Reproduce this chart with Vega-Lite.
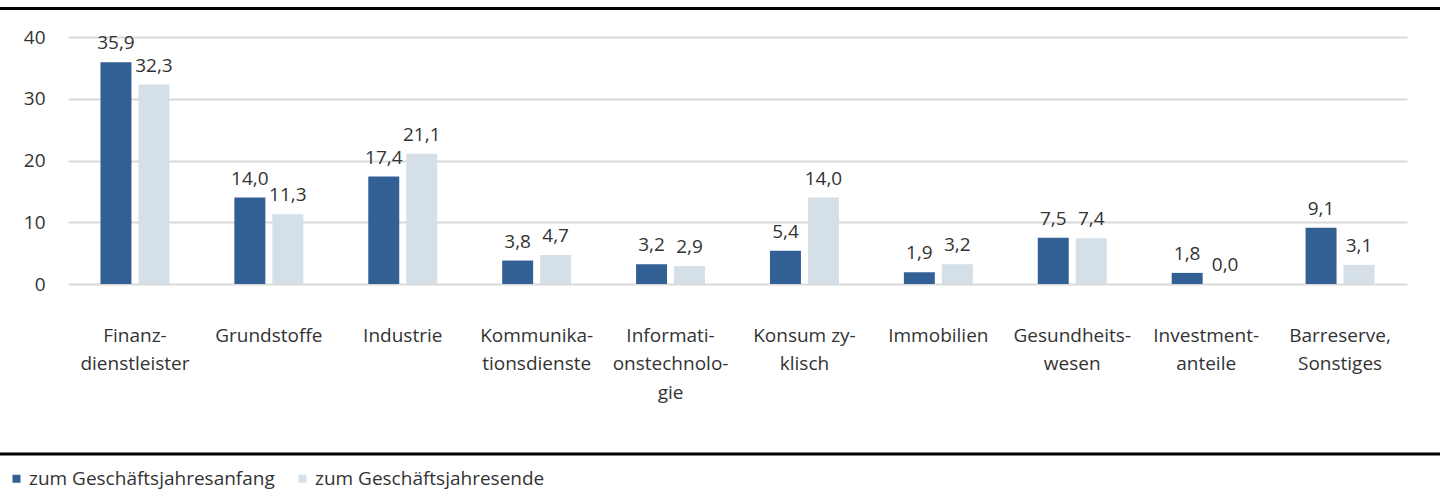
{
  "$schema": "https://vega.github.io/schema/vega-lite/v6.json",
  "width": 1339,
  "height": 247,
  "autosize": {"type": "none"},
  "padding": {"left": 68, "top": 37, "right": 33, "bottom": 207},
  "config": {
    "locale": {"number": {"decimal": ",", "thousands": ".", "grouping": [3], "currency": ["", " €"]}},
    "view": {"stroke": null},
    "font": "Open Sans"
  },
  "data": {
    "values": [
      {"cat": "Finanz-|dienstleister", "series": "zum Geschäftsjahresanfang", "value": 35.9},
      {"cat": "Finanz-|dienstleister", "series": "zum Geschäftsjahresende", "value": 32.3},
      {"cat": "Grundstoffe", "series": "zum Geschäftsjahresanfang", "value": 14.0},
      {"cat": "Grundstoffe", "series": "zum Geschäftsjahresende", "value": 11.3},
      {"cat": "Industrie", "series": "zum Geschäftsjahresanfang", "value": 17.4},
      {"cat": "Industrie", "series": "zum Geschäftsjahresende", "value": 21.1},
      {"cat": "Kommunika-|tionsdienste", "series": "zum Geschäftsjahresanfang", "value": 3.8},
      {"cat": "Kommunika-|tionsdienste", "series": "zum Geschäftsjahresende", "value": 4.7},
      {"cat": "Informati-|onstechnolo-|gie", "series": "zum Geschäftsjahresanfang", "value": 3.2},
      {"cat": "Informati-|onstechnolo-|gie", "series": "zum Geschäftsjahresende", "value": 2.9},
      {"cat": "Konsum zy-|klisch", "series": "zum Geschäftsjahresanfang", "value": 5.4},
      {"cat": "Konsum zy-|klisch", "series": "zum Geschäftsjahresende", "value": 14.0},
      {"cat": "Immobilien", "series": "zum Geschäftsjahresanfang", "value": 1.9},
      {"cat": "Immobilien", "series": "zum Geschäftsjahresende", "value": 3.2},
      {"cat": "Gesundheits-|wesen", "series": "zum Geschäftsjahresanfang", "value": 7.5},
      {"cat": "Gesundheits-|wesen", "series": "zum Geschäftsjahresende", "value": 7.4},
      {"cat": "Investment-|anteile", "series": "zum Geschäftsjahresanfang", "value": 1.8},
      {"cat": "Investment-|anteile", "series": "zum Geschäftsjahresende", "value": 0.0},
      {"cat": "Barreserve,|Sonstiges", "series": "zum Geschäftsjahresanfang", "value": 9.1},
      {"cat": "Barreserve,|Sonstiges", "series": "zum Geschäftsjahresende", "value": 3.1}
    ]
  },
  "layer": [
    {
      "encoding": {
        "x": {
          "field": "cat", "type": "nominal", "sort": null,
          "scale": {"paddingInner": 0.485, "paddingOuter": 0.2425},
          "axis": {"title": null, "labelExpr": "split(datum.label, '|')", "labelFontSize": 19, "labelLineHeight": 28.5, "labelPadding": 42, "ticks": false, "domain": false, "labelAngle": 0, "labelColor": "#333333", "grid": false}
        },
        "xOffset": {
          "field": "series", "type": "nominal",
          "scale": {"domain": ["zum Geschäftsjahresanfang", "zum Geschäftsjahresende"], "paddingInner": 0.1842, "paddingOuter": 0}
        },
        "y": {
          "field": "value", "type": "quantitative",
          "scale": {"domain": [0, 40], "nice": false},
          "axis": {"title": null, "values": [0, 10, 20, 30, 40], "format": "d", "grid": true, "gridColor": "#d9d9d9", "gridWidth": 2, "domain": false, "ticks": false, "labelFontSize": 19, "labelColor": "#333333", "labelPadding": 23}
        }
      },
      "layer": [
        {
          "mark": {"type": "bar"},
          "encoding": {
            "color": {
              "field": "series", "type": "nominal",
              "scale": {"domain": ["zum Geschäftsjahresanfang", "zum Geschäftsjahresende"], "range": ["#336094", "#d5dfe8"]},
              "legend": {"orient": "none", "legendX": -61, "legendY": 432, "direction": "horizontal", "title": null, "symbolType": "square", "symbolSize": 64, "symbolStrokeWidth": 0, "labelFontSize": 19, "labelColor": "#333333", "labelLimit": 0, "columnPadding": 18, "padding": 0, "labelOffset": 3}
            }
          }
        },
        {
          "mark": {"type": "text", "baseline": "bottom", "dy": -9, "fontSize": 19, "color": "#333333"},
          "encoding": {
            "text": {"field": "value", "type": "quantitative", "format": ".1f"}
          }
        }
      ]
    },
    {
      "data": {"values": [{"pos": 44.62}, {"pos": -27.53}]},
      "mark": {"type": "rule", "clip": false, "color": "#000000", "strokeWidth": 3},
      "encoding": {
        "y": {"field": "pos", "type": "quantitative", "scale": {"domain": [0, 40], "nice": false}},
        "x": {"datum": -68, "type": "quantitative", "scale": {"domain": [0, 1339], "nice": false, "zero": false}, "axis": null},
        "x2": {"datum": 1372}
      }
    }
  ],
  "resolve": {"scale": {"x": "independent"}}
}
